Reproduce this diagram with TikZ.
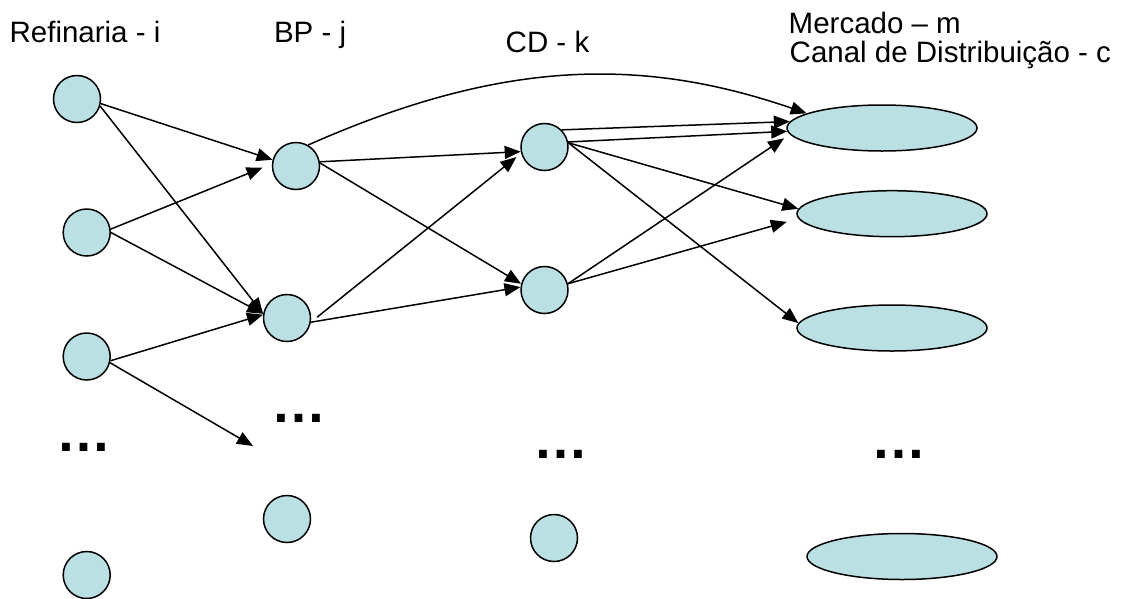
\documentclass[tikz,border=0pt]{standalone}
\usepackage{fontspec}
\setmainfont{Liberation Sans}
\usetikzlibrary{shapes.geometric,arrows.meta}
\definecolor{nodefill}{RGB}{187,224,227}
\begin{document}
\begin{tikzpicture}[x=1pt,y=-1pt,
  circ/.style={circle,draw=black,fill=nodefill,line width=1.5pt,minimum size=47pt,inner sep=0pt},
  ell/.style={ellipse,draw=black,fill=nodefill,line width=1.5pt,minimum width=190pt,minimum height=46pt,inner sep=0pt},
  arr/.style={line width=1.5pt,-{Triangle[length=16pt,width=13pt]}},
  lbl/.style={anchor=base west,inner sep=0pt,font=\fontsize{29.5}{35}\selectfont},
  ellipsisdots/.style={anchor=base,inner sep=0pt,font=\fontsize{55}{60}\selectfont\bfseries}]
\useasboundingbox (0,0) rectangle (1131,598);

% labels
\node[lbl] (lref) at (9.4,42.7) {Refinaria - i};
\node[lbl] (lbp) at (273.8,42.7) {BP - j};
\node[lbl] (lcd) at (505.5,52.3) {CD - k};
\node[lbl] (lmerc) at (788.5,33) {Mercado – m};
\node[lbl] (lcanal) at (789.5,62.3) {Canal de Distribuição - c};

% nodes
\node[circ] (R1) at (77,99) {};
\node[circ] (R2) at (86.7,232.5) {};
\node[circ] (R3) at (86.7,356.5) {};
\node[circ] (R4) at (86.7,575) {};
\node[circ] (B1) at (296,166) {};
\node[circ] (B2) at (287,318) {};
\node[circ] (B3) at (287,519) {};
\node[circ] (C1) at (544.5,147) {};
\node[circ] (C2) at (544.5,290) {};
\node[circ] (C3) at (554,538) {};
\node[ell] (M1) at (882,128) {};
\node[ell] (M2) at (892,213.7) {};
\node[ell] (M3) at (892,328) {};
\node[ell] (M4) at (902,556.5) {};

% ellipsis dots
\node[ellipsisdots] (dR) at (84.2,451) {…};
\node[ellipsisdots] (dB) at (299,422) {…};
\node[ellipsisdots] (dC) at (561,458) {…};
\node[ellipsisdots] (dM) at (899,458) {…};

% connectors
\coordinate (Bfree) at (253,446);
\draw[arr] (R1.349) -- (B1.165);
\draw[arr] (R1.343) -- (B2.170);
\draw[arr,shorten >=10pt] (R2.8) -- (B1.175);
\draw[arr] (R2.0) -- (B2.170);
\draw[arr] (R3.350) -- (B2.172);
\draw[arr] (R3.345) -- (Bfree);
\draw[arr] (B1.10) -- (C1.191);
\draw[arr] (B1.7) -- (C2.165);
\draw[arr] (B1.60) .. controls (500,60) and (640,56) .. (M1.169);
\draw[arr,shorten <=8pt,shorten >=6pt] (B2.350) -- (C1.195);
\draw[arr] (B2.350) -- (C2.173);
\draw[arr] (C1.45) -- (M1.176);
\draw[arr] (C1.12) -- (M1.182);
\draw[arr] (C1.10) -- (M2.177);
\draw[arr] (C1.10) -- (M3.177);
\draw[arr,shorten >=7pt] (C2.15) -- (M1.184);
\draw[arr,shorten >=12pt] (C2.15) -- (M2.183);
\end{tikzpicture}
\end{document}
